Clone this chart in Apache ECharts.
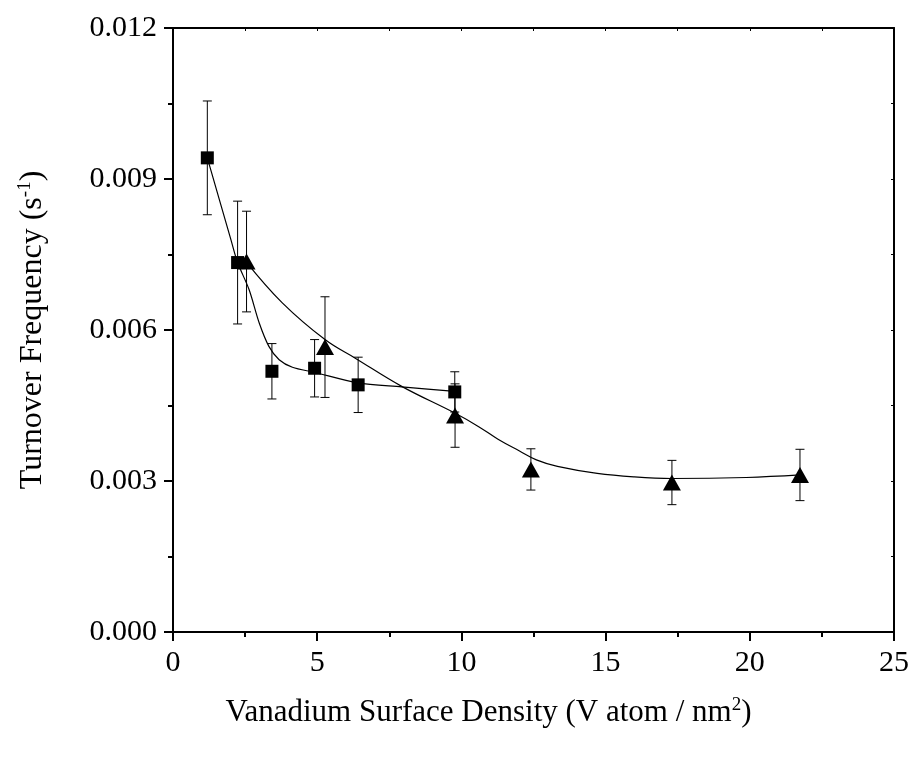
<!DOCTYPE html>
<html>
<head>
<meta charset="utf-8">
<script src="https://cdn.jsdelivr.net/npm/echarts@6/dist/echarts.min.js"></script>
<style>html,body{margin:0;padding:0;background:#fff;overflow:hidden}#c{width:912px;height:759px}</style>
</head>
<body>
<div id="c"></div>
<script>
// Squares series
var sqX = [1.19, 2.24, 3.43, 4.91, 6.42, 9.77];
var sqY = [0.00942, 0.00734, 0.00518, 0.00524, 0.00491, 0.00477];
var sqErr = [0.00113, 0.00122, 0.00055, 0.00057, 0.00055, 0.00040];
// Triangles series
var triX = [2.55, 5.27, 9.78, 12.41, 17.3, 21.74];
var triY = [0.00736, 0.00566, 0.00430, 0.00323, 0.00297, 0.00312];
var triErr = [0.00100, 0.00100, 0.00063, 0.00041, 0.00044, 0.00051];
// Fitted curves
var sqFitX = [1.19, 2.01, 2.24, 2.64, 2.99, 3.33, 3.68, 4.14, 4.89, 6.41, 7.93, 9.77];
var sqFitY = [0.00942, 0.00779, 0.00734, 0.00680, 0.00614, 0.00567, 0.00541, 0.00526, 0.00516, 0.00495, 0.00487, 0.00478];
var triFitX = [2.53, 3.79, 5.27, 6.32, 7.93, 9.77, 10.6, 11.27, 12.0, 12.6, 13.33, 14.71, 16.0, 17.3, 19.88, 21.74];
var triFitY = [0.00736, 0.00654, 0.00581, 0.00544, 0.00488, 0.00435, 0.00408, 0.00383, 0.00360, 0.00342, 0.00329, 0.00315, 0.00308, 0.00305, 0.00307, 0.00312];
// Axis ticks
var xMin = 0, xMax = 25, xInterval = 5;
var yMin = 0, yMax = 0.012, yInterval = 0.003;

function pairs(xs, ys) { return xs.map(function (x, i) { return [x, ys[i]]; }); }
function errData(xs, ys, es) { return xs.map(function (x, i) { return [x, ys[i] - es[i], ys[i] + es[i]]; }); }

function errRender(params, api) {
  var x = api.value(0);
  var lo = api.coord([x, api.value(1)]);
  var hi = api.coord([x, api.value(2)]);
  var hw = 4.5;
  var st = { stroke: '#000', lineWidth: 1 };
  return {
    type: 'group',
    children: [
      { type: 'line', shape: { x1: lo[0], y1: lo[1], x2: hi[0], y2: hi[1] }, style: st },
      { type: 'line', shape: { x1: lo[0] - hw, y1: lo[1], x2: lo[0] + hw, y2: lo[1] }, style: st },
      { type: 'line', shape: { x1: hi[0] - hw, y1: hi[1], x2: hi[0] + hw, y2: hi[1] }, style: st }
    ]
  };
}

var font = 'Liberation Serif, Times New Roman, serif';
var chart = echarts.init(document.getElementById('c'), null, { renderer: 'canvas', width: 912, height: 759 });
chart.setOption({
  backgroundColor: '#fff',
  animation: false,
  grid: { left: 173, right: 13, top: 28, bottom: 127, containLabel: false },
  xAxis: [{
    type: 'value', min: xMin, max: xMax, interval: xInterval,
    name: 'Vanadium Surface Density (V atom / nm{sup|2})',
    nameLocation: 'middle', nameGap: 64,
    nameTextStyle: { fontFamily: font, fontSize: 31, color: '#000', padding: [0, 90, 0, 0],
      rich: { sup: { fontFamily: font, fontSize: 19, color: '#000', verticalAlign: 'top', padding: [0, 0, 14, 0] } } },
    axisLine: { show: true, onZero: false, lineStyle: { color: '#000', width: 2 } },
    axisTick: { show: true, inside: false, length: 9, lineStyle: { color: '#000', width: 2 } },
    minorTick: { show: true, splitNumber: 2, length: 5, lineStyle: { color: '#000', width: 2 } },
    axisLabel: { fontFamily: font, fontSize: 30, color: '#000', margin: 16 },
    splitLine: { show: false }
  }, {
    type: 'value', position: 'top', min: xMin, max: xMax, interval: 2.5,
    axisLine: { show: true, onZero: false, lineStyle: { color: '#000', width: 2 } },
    axisTick: { show: true, inside: true, length: 3, lineStyle: { color: '#000', width: 1 } },
    axisLabel: { show: false }, splitLine: { show: false }
  }],
  yAxis: [{
    type: 'value', min: yMin, max: yMax, interval: yInterval,
    name: 'Turnover Frequency (s{sup|-1})',
    nameLocation: 'middle', nameGap: 124, nameRotate: 90,
    nameTextStyle: { fontFamily: font, fontSize: 32, color: '#000',
      rich: { sup: { fontFamily: font, fontSize: 19, color: '#000', verticalAlign: 'top', padding: [0, 0, 14, 0] } } },
    axisLine: { show: true, onZero: false, lineStyle: { color: '#000', width: 2 } },
    axisTick: { show: true, inside: false, length: 9, lineStyle: { color: '#000', width: 2 } },
    minorTick: { show: true, splitNumber: 2, length: 5, lineStyle: { color: '#000', width: 2 } },
    axisLabel: { fontFamily: font, fontSize: 30, color: '#000', margin: 16,
      formatter: function (v) { return v.toFixed(3); } },
    splitLine: { show: false }
  }, {
    type: 'value', position: 'right', min: yMin, max: yMax, interval: 0.0015,
    axisLine: { show: true, onZero: false, lineStyle: { color: '#000', width: 2 } },
    axisTick: { show: true, inside: true, length: 3, lineStyle: { color: '#000', width: 1 } },
    axisLabel: { show: false }, splitLine: { show: false }
  }],
  series: [
    { type: 'line', data: pairs(sqFitX, sqFitY), smooth: 0.3, showSymbol: false, symbol: 'none',
      lineStyle: { color: '#000', width: 1.2 }, z: 2, silent: true },
    { type: 'line', data: pairs(triFitX, triFitY), smooth: 0.4, showSymbol: false, symbol: 'none',
      lineStyle: { color: '#000', width: 1.2 }, z: 2, silent: true },
    { type: 'custom', renderItem: errRender, data: errData(sqX, sqY, sqErr), z: 3, encode: { x: 0, y: [1, 2] } },
    { type: 'custom', renderItem: errRender, data: errData(triX, triY, triErr), z: 3, encode: { x: 0, y: [1, 2] } },
    { type: 'scatter', data: pairs(sqX, sqY), symbol: 'rect', symbolSize: 13,
      itemStyle: { color: '#000', opacity: 1 }, z: 5 },
    { type: 'scatter', data: pairs(triX, triY), symbol: 'triangle', symbolSize: [18, 16],
      itemStyle: { color: '#000', opacity: 1 }, z: 5 }
  ]
});
</script>
</body>
</html>
